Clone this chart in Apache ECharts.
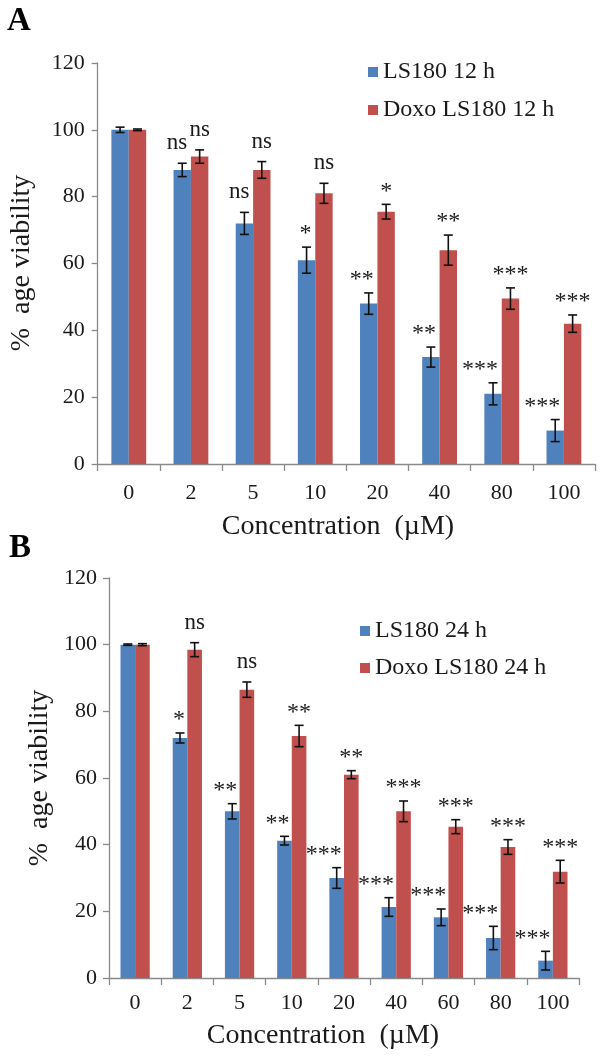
<!DOCTYPE html>
<html>
<head>
<meta charset="utf-8">
<script src="https://cdn.jsdelivr.net/npm/echarts@6/dist/echarts.min.js"></script>
<style>
html,body{margin:0;padding:0;background:#fff;}
#chart{width:602px;height:1058px;}
</style>
</head>
<body>
<div id="chart"></div>
<script>
// ---- Panel A data (12 h) ----
const categoriesA = ['0', '2', '5', '10', '20', '40', '80', '100'];
const ls180_12h = [100, 88, 72, 61, 48, 32, 21, 10];
const ls180_12h_err = [0.8, 2, 3.3, 3.9, 3.2, 3, 3.3, 3.3];
const doxo_12h = [100, 92, 88, 81, 75.5, 64, 49.5, 42];
const doxo_12h_err = [0.25, 2, 2.5, 3, 2.2, 4.5, 3.2, 2.6];
const sigA_ls180 = ['', 'ns', 'ns', '*', '**', '**', '***', '***'];
const sigA_doxo = ['', 'ns', 'ns', 'ns', '*', '**', '***', '***'];

// ---- Panel B data (24 h) ----
const categoriesB = ['0', '2', '5', '10', '20', '40', '60', '80', '100'];
const ls180_24h = [100, 72, 50, 41.2, 30, 21.3, 18.2, 12, 5.2];
const ls180_24h_err = [0.2, 1.5, 2.3, 1.3, 3.1, 2.8, 2.5, 3.5, 2.8];
const doxo_24h = [100, 98.5, 86.5, 72.6, 61, 50, 45.4, 39.3, 31.9];
const doxo_24h_err = [0.3, 2.1, 2.3, 3.2, 1.2, 3.1, 2.1, 2.2, 3.4];
const sigB_ls180 = ['', '*', '**', '**', '***', '***', '***', '***', '***'];
const sigB_doxo = ['', 'ns', 'ns', '**', '**', '***', '***', '***', '***'];

const yTicks = [0, 20, 40, 60, 80, 100, 120];

const FONT = '"Liberation Serif", "Times New Roman", serif';
const BLUE = '#4F81BD';
const RED = '#C0504D';
const BAR_FRAC = 0.28;

function errSeries(values, errs, labels, side, idx) {
  return {
    type: 'custom',
    xAxisIndex: idx, yAxisIndex: idx,
    z: 5,
    silent: true,
    data: values.map((v, i) => [i, v, errs[i]]),
    renderItem: function (params, api) {
      const i = api.value(0), v = api.value(1), e = api.value(2);
      const c = api.coord([i, v]);
      const band = api.size([1, 0])[0];
      const bw = band * BAR_FRAC;
      const x = c[0] + side * bw / 2;
      const top = api.coord([i, v + e])[1];
      const bot = api.coord([i, v - e])[1];
      const cap = 4.5;
      const ls = { stroke: '#111', lineWidth: 1.6 };
      const children = [
        { type: 'line', shape: { x1: x, y1: top, x2: x, y2: bot }, style: ls },
        { type: 'line', shape: { x1: x - cap, y1: top, x2: x + cap, y2: top }, style: ls },
        { type: 'line', shape: { x1: x - cap, y1: bot, x2: x + cap, y2: bot }, style: ls }
      ];
      const t = labels[params.dataIndex];
      if (t) {
        const star = t.indexOf('*') >= 0;
        children.push({
          type: 'text',
          style: {
            text: t,
            x: side < 0 ? x + 5 : x,
            y: star ? top - 13 : top - 20,
            fill: '#1a1a1a',
            fontSize: star ? 24 : 23,
            fontFamily: FONT,
            align: side < 0 ? 'right' : 'center',
            verticalAlign: 'middle'
          }
        });
      }
      return { type: 'group', children: children };
    }
  };
}

function xAxis(cats, idx, margin) {
  return {
    type: 'category', gridIndex: idx, data: cats,
    axisLine: { show: true, lineStyle: { color: '#8a8a8a', width: 1.3 } },
    axisTick: { show: true, length: 7, lineStyle: { color: '#8a8a8a', width: 1.3 } },
    axisLabel: { fontFamily: FONT, fontSize: 22, color: '#1a1a1a', margin: margin },
    splitLine: { show: false }
  };
}
function yAxis(idx, margin) {
  return {
    type: 'value', gridIndex: idx, min: 0, max: 120, interval: 20,
    axisLine: { show: true, lineStyle: { color: '#8a8a8a', width: 1.3 } },
    axisTick: { show: true, length: 6, lineStyle: { color: '#8a8a8a', width: 1.3 } },
    axisLabel: { fontFamily: FONT, fontSize: 22, color: '#1a1a1a', margin: margin,
      formatter: v => yTicks.indexOf(v) >= 0 ? String(v) : '' },
    splitLine: { show: false }
  };
}

const chart = echarts.init(document.getElementById('chart'), null, { renderer: 'canvas' });
chart.setOption({
  animation: false,
  backgroundColor: '#fff',
  grid: [
    { left: 97.7, top: 63, width: 497.3, height: 401 },
    { left: 109, top: 578, width: 470, height: 400 }
  ],
  xAxis: [xAxis(categoriesA, 0, 18), xAxis(categoriesB, 1, 14)],
  yAxis: [yAxis(0, 13), yAxis(1, 12)],
  legend: [
    { data: ['LS180 12 h', 'Doxo LS180 12 h'], orient: 'vertical', left: 368, top: 60,
      padding: 0, itemWidth: 10, itemHeight: 10, itemGap: 14, icon: 'rect',
      textStyle: { fontFamily: FONT, fontSize: 24, color: '#1a1a1a' } },
    { data: ['LS180 24 h', 'Doxo LS180 24 h'], orient: 'vertical', left: 360, top: 619,
      padding: 0, itemWidth: 10, itemHeight: 10, itemGap: 13, icon: 'rect',
      textStyle: { fontFamily: FONT, fontSize: 24, color: '#1a1a1a' } }
  ],
  series: [
    { name: 'LS180 12 h', type: 'bar', xAxisIndex: 0, yAxisIndex: 0, data: ls180_12h,
      barWidth: '28%', barGap: '0%', itemStyle: { color: BLUE } },
    { name: 'Doxo LS180 12 h', type: 'bar', xAxisIndex: 0, yAxisIndex: 0, data: doxo_12h,
      barWidth: '28%', barGap: '0%', itemStyle: { color: RED } },
    { name: 'LS180 24 h', type: 'bar', xAxisIndex: 1, yAxisIndex: 1, data: ls180_24h,
      barWidth: '28%', barGap: '0%', itemStyle: { color: BLUE } },
    { name: 'Doxo LS180 24 h', type: 'bar', xAxisIndex: 1, yAxisIndex: 1, data: doxo_24h,
      barWidth: '28%', barGap: '0%', itemStyle: { color: RED } },
    errSeries(ls180_12h, ls180_12h_err, sigA_ls180, -1, 0),
    errSeries(doxo_12h, doxo_12h_err, sigA_doxo, 1, 0),
    errSeries(ls180_24h, ls180_24h_err, sigB_ls180, -1, 1),
    errSeries(doxo_24h, doxo_24h_err, sigB_doxo, 1, 1)
  ],
  graphic: [
    { type: 'text', x: 7, y: 21, style: { text: 'A', fontFamily: FONT, fontSize: 33, fontWeight: 'bold', fill: '#000', align: 'left', verticalAlign: 'middle' } },
    { type: 'text', x: 9, y: 548, style: { text: 'B', fontFamily: FONT, fontSize: 33, fontWeight: 'bold', fill: '#000', align: 'left', verticalAlign: 'middle' } },
    { type: 'text', x: 338, y: 527, style: { text: 'Concentration  (µM)', fontFamily: FONT, fontSize: 28, fill: '#1a1a1a', align: 'center', verticalAlign: 'middle' } },
    { type: 'text', x: 323, y: 1036, style: { text: 'Concentration  (µM)', fontFamily: FONT, fontSize: 28, fill: '#1a1a1a', align: 'center', verticalAlign: 'middle' } },
    { type: 'text', x: 22, y: 263, rotation: Math.PI / 2, style: { text: '%  age viability', fontFamily: FONT, fontSize: 28, fill: '#1a1a1a', align: 'center', verticalAlign: 'middle' } },
    { type: 'text', x: 40, y: 778, rotation: Math.PI / 2, style: { text: '%  age viability', fontFamily: FONT, fontSize: 28, fill: '#1a1a1a', align: 'center', verticalAlign: 'middle' } }
  ]
});
</script>
</body>
</html>
